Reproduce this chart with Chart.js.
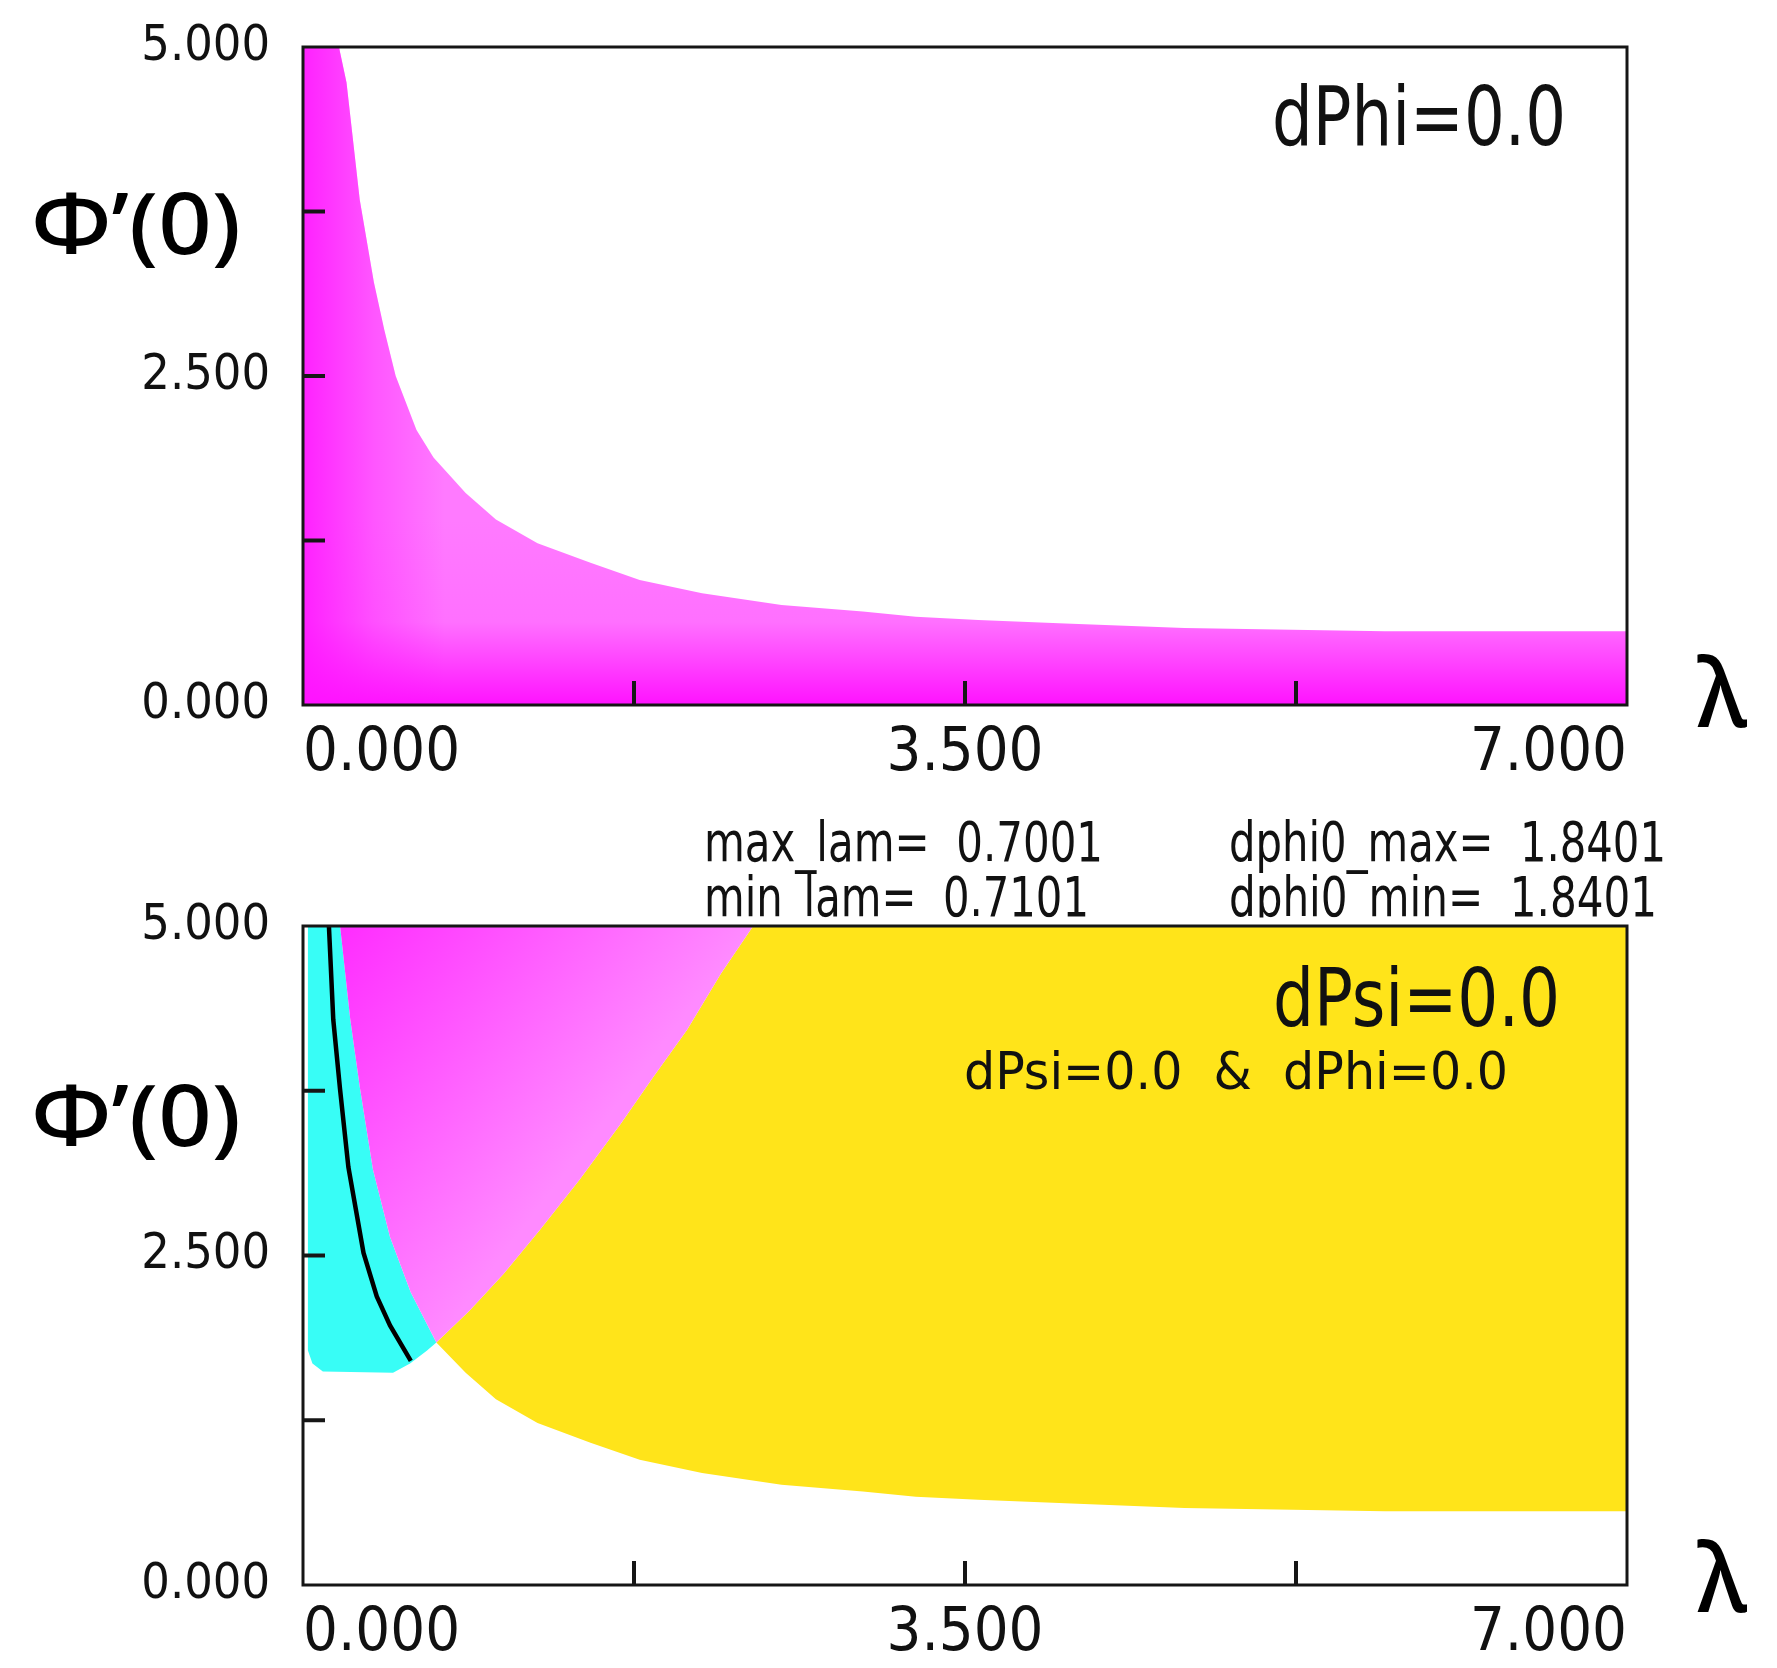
<!DOCTYPE html>
<html><head><meta charset="utf-8">
<script src="https://cdn.jsdelivr.net/npm/chart.js@4.4.1/dist/chart.umd.min.js"></script>
<style>
html,body{margin:0;padding:0;background:#fff;}
#page{position:relative;width:1777px;height:1668px;overflow:hidden;background:#fff;}
canvas{position:absolute;left:0;}
.t{position:absolute;white-space:pre;color:#111;font-family:"Liberation Sans Narrow","DejaVu Sans Condensed","Liberation Sans",sans-serif;line-height:1;transform-origin:0 50%;}
.big{position:absolute;white-space:pre;color:#000;font-family:"Noto Sans","Open Sans",sans-serif;font-weight:500;line-height:1;transform-origin:0 50%;}
</style></head><body>
<div id="page">
<canvas id="cTop" width="1777" height="820" style="top:-20px;width:1777px;height:820px"></canvas>
<canvas id="cBot" width="1777" height="868" style="top:800px;width:1777px;height:868px"></canvas>
</div>
<script>
// ---------- axes ----------
const lamMin = 0, lamMax = 7, phiMin = 0, phiMax = 5;
const xTickStep = 1.75, yTickStep = 1.25;
const xLabelTicks = [0, 3.5, 7];
const yLabelTicks = [0, 2.5, 5];

// ---------- dPhi = 0 boundary (top panel, also lower edge of yellow) ----------
const dphiLam = [0, 0.19, 0.23, 0.30, 0.375, 0.43, 0.49, 0.60, 0.69, 0.86, 1.02, 1.24, 1.52, 1.78, 2.11, 2.53, 2.96, 3.24, 3.57, 4.03, 4.66, 5.72, 7.0];
const dphiVal = [5, 5, 4.73, 3.84, 3.21, 2.85, 2.50, 2.09, 1.88, 1.61, 1.41, 1.23, 1.08, 0.95, 0.85, 0.76, 0.71, 0.67, 0.646, 0.62, 0.585, 0.56, 0.56];

// ---------- dPsi = 0 region (bottom panel, magenta) ----------
const psiLeftLam = [0.196, 0.25, 0.30, 0.37, 0.46, 0.57, 0.705];
const psiLeftVal = [5.0, 4.29, 3.78, 3.15, 2.64, 2.22, 1.84];
const psiRightLam = [0.705, 0.88, 1.06, 1.25, 1.46, 1.68, 1.85, 2.03, 2.21, 2.38];
const psiRightVal = [1.84, 2.08, 2.36, 2.69, 3.07, 3.50, 3.85, 4.21, 4.64, 5.0];

// ---------- cyan region (left of dPsi region) ----------
const cyanLam = [0.026, 0.026, 0.05, 0.105, 0.476, 0.566, 0.656, 0.705];
const cyanVal = [5.0, 1.78, 1.68, 1.62, 1.61, 1.68, 1.78, 1.84];

// ---------- black curve ----------
const blackLam = [0.137, 0.16, 0.196, 0.24, 0.32, 0.39, 0.46, 0.57];
const blackVal = [5.0, 4.29, 3.76, 3.17, 2.52, 2.19, 1.97, 1.70];

// ---------- texts ----------
const statLines = ['max_lam=  0.7001', 'min_lam=  0.7101', 'dphi0_max=  1.8401', 'dphi0_min=  1.8401'];

const FONT = '"Liberation Sans Narrow","DejaVu Sans Condensed","Liberation Sans",sans-serif';
const pts = (xs, ys) => xs.map((x, i) => ({x: x, y: ys[i]}));

const yellowPts = [
  ...pts(psiRightLam, psiRightVal),
  {x: lamMax, y: phiMax},
  ...pts(dphiLam, dphiVal).filter(p => p.x > psiRightLam[0]).reverse()
];
const magentaPts = [...pts(psiLeftLam, psiLeftVal), ...pts(psiRightLam, psiRightVal).slice(1)];
const cyanPts = [...pts(cyanLam, cyanVal), ...pts(psiLeftLam, psiLeftVal).reverse().slice(1)];

const near = (arr, v) => arr.some(t => Math.abs(t - v) < 1e-9);

const framePlugin = {
  id: 'frame',
  afterDatasetsDraw(chart) {
    const {ctx, chartArea: a, scales: {x, y}} = chart;
    ctx.save();
    ctx.strokeStyle = '#161616';
    ctx.lineWidth = 4;
    y.ticks.forEach(t => {
      if (t.value <= phiMin || t.value >= phiMax) return;
      const py = y.getPixelForValue(t.value);
      ctx.beginPath(); ctx.moveTo(a.left, py); ctx.lineTo(a.left + 22, py); ctx.stroke();
    });
    x.ticks.forEach(t => {
      if (t.value <= lamMin || t.value >= lamMax) return;
      const px = x.getPixelForValue(t.value);
      ctx.beginPath(); ctx.moveTo(px, a.bottom); ctx.lineTo(px, a.bottom - 24); ctx.stroke();
    });
    ctx.lineWidth = 3;
    ctx.strokeRect(a.left, a.top, a.right - a.left, a.bottom - a.top);
    ctx.restore();
  }
};

function makeScales(xHeight) {
  return {
    x: {
      type: 'linear', min: lamMin, max: lamMax,
      ticks: {stepSize: xTickStep, autoSkip: false, maxRotation: 0, minRotation: 0, align: 'inner', padding: 13,
              color: '#111', font: {family: FONT, size: 61},
              callback: v => near(xLabelTicks, v) ? v.toFixed(3) : ''},
      grid: {display: false, drawTicks: false}, border: {display: false},
      afterFit(s) { s.height = xHeight; }
    },
    y: {
      type: 'linear', min: phiMin, max: phiMax,
      ticks: {stepSize: yTickStep, autoSkip: false, padding: 33, color: '#111', font: {family: FONT, size: 50},
              callback: v => near(yLabelTicks, v) ? v.toFixed(3) : ''},
      grid: {display: false, drawTicks: false}, border: {display: false},
      afterFit(s) { s.width = 303; }
    }
  };
}

const common = {
  responsive: false, animation: false, events: [],
  plugins: {legend: {display: false}, tooltip: {enabled: false}},
  elements: {point: {radius: 0}, line: {tension: 0}}
};

function topFill(c) {
  const ch = c.chart;
  if (!ch.chartArea) return '#ff50ff';
  const y = ch.scales.y;
  const g = ch.ctx.createLinearGradient(0, y.getPixelForValue(0), 0, y.getPixelForValue(1.4));
  g.addColorStop(0, '#ff12ff'); g.addColorStop(0.45, '#ff70ff'); g.addColorStop(1, '#ff7aff');
  return g;
}
function topOverlay(c) {
  const ch = c.chart;
  if (!ch.chartArea) return 'rgba(0,0,0,0)';
  const x = ch.scales.x;
  const g = ch.ctx.createLinearGradient(x.getPixelForValue(0), 0, x.getPixelForValue(0.75), 0);
  g.addColorStop(0, 'rgba(255,18,255,0.85)'); g.addColorStop(0.5, 'rgba(255,18,255,0.35)'); g.addColorStop(1, 'rgba(255,18,255,0)');
  return g;
}
function botMagenta(c) {
  const ch = c.chart;
  if (!ch.chartArea) return '#ff50ff';
  const {x, y} = ch.scales;
  const g = ch.ctx.createLinearGradient(x.getPixelForValue(psiLeftLam[0]), y.getPixelForValue(phiMax),
                                        x.getPixelForValue(1.58), y.getPixelForValue(3.49));
  g.addColorStop(0, '#ff2cff'); g.addColorStop(1, '#ff8aff');
  return g;
}

new Chart(document.getElementById('cTop'), {
  type: 'line',
  data: {datasets: [
    {label: 'dPhi=0.0 shade', data: pts(dphiLam, dphiVal), fill: 'origin', backgroundColor: topOverlay, borderWidth: 0, borderColor: 'rgba(0,0,0,0)'},
    {label: 'dPhi=0.0', data: pts(dphiLam, dphiVal), fill: 'origin', backgroundColor: topFill, borderWidth: 0, borderColor: 'rgba(0,0,0,0)'}
  ]},
  options: Object.assign({}, common, {
    layout: {padding: {left: 0, right: 150, top: 67, bottom: 0}},
    scales: makeScales(95)
  }),
  plugins: [framePlugin]
});

new Chart(document.getElementById('cBot'), {
  type: 'line',
  data: {datasets: [
    {label: 'curve', data: pts(blackLam, blackVal), fill: false, borderColor: '#000', borderWidth: 4.5},
    {label: 'dPsi=0.0', data: magentaPts, fill: 'shape', backgroundColor: botMagenta, borderWidth: 0, borderColor: 'rgba(0,0,0,0)'},
    {label: 'dPsi=0.0 & dPhi=0.0', data: yellowPts, fill: 'shape', backgroundColor: '#ffe41a', borderWidth: 0, borderColor: 'rgba(0,0,0,0)'},
    {label: 'cyan', data: cyanPts, fill: 'shape', backgroundColor: '#38fdf6', borderWidth: 0, borderColor: 'rgba(0,0,0,0)'}
  ]},
  options: Object.assign({}, common, {
    layout: {padding: {left: 0, right: 150, top: 126, bottom: 0}},
    scales: makeScales(83)
  }),
  plugins: [framePlugin]
});

// ---------- text overlays ----------
const page = document.getElementById('page');
const texts = [
  {cls: 't', text: 'dPhi=0.0', left: 1272, right: 1566, cy: 117, size: 82, k: 0.5},
  {cls: 't', text: 'dPsi=0.0', left: 1273, right: 1560, cy: 998, size: 81, k: 0.5},
  {cls: 't', text: 'dPsi=0.0  &  dPhi=0.0', left: 964, right: 1508, cy: 1071, size: 52, k: 0.5},
  {cls: 't', text: statLines[0], left: 704, right: 1103, cy: 842, size: 55, k: 0.5},
  {cls: 't', text: statLines[1], left: 704, right: 1089, cy: 897, size: 55, k: 0.5, clip: 7},
  {cls: 't', text: statLines[2], left: 1229, right: 1666, cy: 842, size: 55, k: 0.5},
  {cls: 't', text: statLines[3], left: 1229, right: 1657, cy: 897, size: 55, k: 0.5, clip: 7},
  {cls: 'big', text: 'Φ’(0)', left: 31, right: 241, cy: 225, size: 86, k: 0.55},
  {cls: 'big', text: 'Φ’(0)', left: 31, right: 241, cy: 1117, size: 86, k: 0.55},
  {cls: 'big', text: 'λ', left: 1697, right: 1747, cy: 690, size: 96, k: 0.5},
  {cls: 'big', text: 'λ', left: 1697, right: 1747, cy: 1575, size: 96, k: 0.5}
];
const els = texts.map(t => {
  const d = document.createElement('div');
  d.className = t.cls;
  d.textContent = t.text;
  d.style.fontSize = t.size + 'px';
  d.style.left = t.left + 'px';
  d.style.top = (t.cy - t.size * t.k) + 'px';
  if (t.clip) d.style.clipPath = 'inset(0 0 ' + t.clip + 'px 0)';
  page.appendChild(d);
  return d;
});
function fit() {
  texts.forEach((t, i) => {
    const d = els[i];
    d.style.transform = 'none';
    const w = d.getBoundingClientRect().width;
    if (w > 0) d.style.transform = 'scaleX(' + ((t.right - t.left) / w).toFixed(4) + ')';
  });
}
fit();
if (document.fonts && document.fonts.ready) document.fonts.ready.then(fit);
</script>
</body></html>
